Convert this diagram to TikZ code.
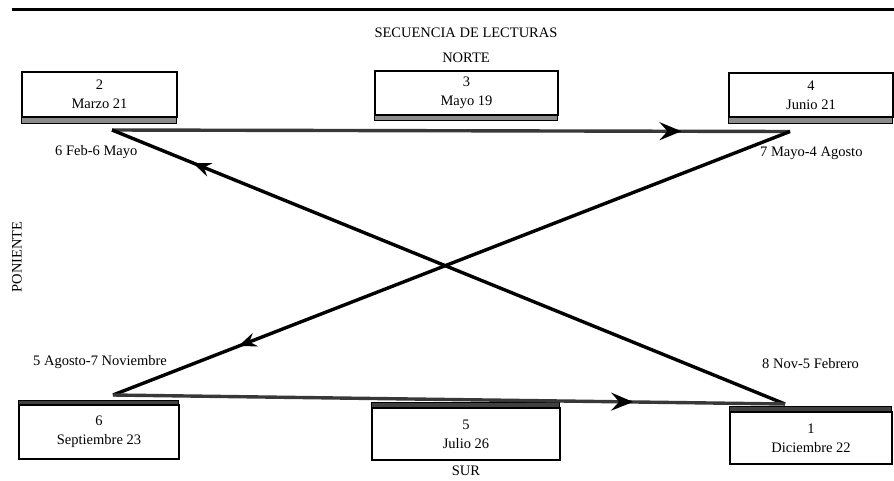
\documentclass[tikz,border=0pt]{standalone}
\usepackage{fontspec}
\setmainfont{Liberation Serif}
\usetikzlibrary{arrows.meta,decorations.markings}
\begin{document}
\begin{tikzpicture}[x=1pt,y=-1pt,
  box/.style={draw,line width=1.3pt,rectangle,inner sep=0pt,align=center,font=\fontsize{14.5}{19}\selectfont},
  band/.style={draw,line width=1.1pt,fill=black!45},
  bandB/.style={draw,line width=1.1pt,fill=black!75},
  lbl/.style={anchor=west,inner sep=0pt,font=\fontsize{14.5}{16}\selectfont},
  ttl/.style={inner sep=0pt,font=\fontsize{14.5}{16}\selectfont},
  hline/.style={line width=3.4pt,draw=black!78},
  dline/.style={line width=3.4pt,draw=black},
  tipH/.style={postaction={decorate},decoration={markings,mark=at position #1 with {\arrow[black]{Stealth[length=22pt,width=18pt,inset=8pt]}}}},
  tipD/.style={postaction={decorate},decoration={markings,mark=at position #1 with {\arrow[black]{Stealth[length=18pt,width=14pt,inset=6pt]}}}}
]
\path[use as bounding box] (0,0) rectangle (894,480);
% top rule
\draw[line width=2.6pt] (12,9.5) -- (894,9.5);
% titles
\node[ttl] (title) at (466,33) {SECUENCIA DE LECTURAS};
\node[ttl] (norte) at (466,58) {NORTE};
\node[ttl] (sur) at (466,471) {SUR};
\node[ttl,rotate=90] (poniente) at (17,257) {PONIENTE};
\node[ttl,rotate=-90] (oriente) at (900,250) {ORIENTE};
% top boxes
\node[box,minimum width=155pt,minimum height=45pt] (b2) at (99.5,94.5) {2\\Marzo 21};
\draw[band] (b2.south west) rectangle ++(155,6);
\node[box,minimum width=183pt,minimum height=44pt] (b3) at (466.5,93) {3\\Mayo 19};
\draw[band] (b3.south west) rectangle ++(183,5);
\node[box,minimum width=164pt,minimum height=44pt] (b4) at (811,95) {4\\Junio 21};
\draw[band] (b4.south west) rectangle ++(164,6);
% bottom boxes
\node[box,minimum width=160pt,minimum height=54pt] (b6) at (99,432) {6\\Septiembre 23};
\draw[bandB] (b6.north west) rectangle ++(160,-4);
\node[box,minimum width=188pt,minimum height=52pt] (b5) at (466,434) {5\\Julio 26};
\draw[bandB] (b5.north west) rectangle ++(188,-5);
\node[box,minimum width=162pt,minimum height=52pt] (b1) at (811,438) {1\\Diciembre 22};
\draw[bandB] (b1.north west) rectangle ++(162,-5);
% connector end points
\coordinate (p2) at (112,130);
\coordinate (p4) at (790,131.5);
\coordinate (p6) at (113,395);
\coordinate (p1) at (785,404);
% connectors
\draw[hline,tipH=0.84] (p2) -- (p4);
\draw[dline,tipD=0.815] (p4) -- (p6);
\draw[dline,tipD=0.88] (p1) -- (p2);
\draw[hline,tipH=0.774] (p6) -- (p1);
% period labels
\node[lbl] (l1) at (55,152) {6 Feb-6 Mayo};
\node[lbl] (l2) at (760,153) {7 Mayo-4 Agosto};
\node[lbl] (l3) at (33,362) {5 Agosto-7 Noviembre};
\node[lbl] (l4) at (762,364) {8 Nov-5 Febrero};
\end{tikzpicture}
\end{document}
